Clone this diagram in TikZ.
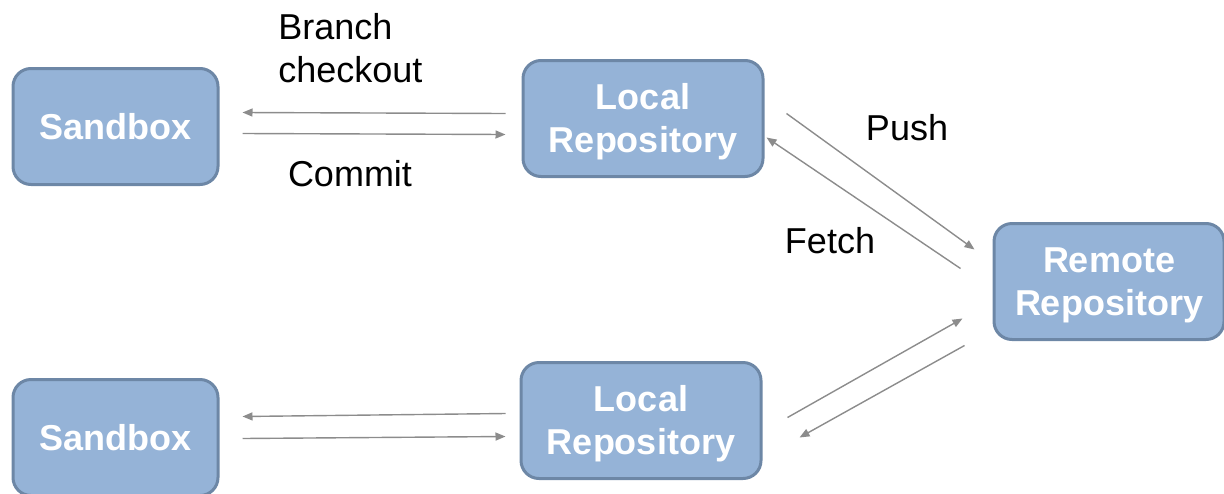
\documentclass[tikz,border=0pt]{standalone}
\usepackage{fontspec}
\setmainfont{Liberation Sans}
\usetikzlibrary{arrows.meta}
\definecolor{boxfill}{HTML}{95B3D7}
\definecolor{boxline}{HTML}{6D87A6}
\definecolor{linkgray}{HTML}{8C8C8C}
\newcommand{\toppad}{\rule{0pt}{16pt}}
\begin{document}
\begin{tikzpicture}[x=0.5pt,y=-0.5pt,
  repo/.style={draw=boxline,line width=1.5pt,fill=boxfill,rounded corners=9pt,
    text=white,font=\fontsize{18}{21.5}\selectfont\bfseries,align=center,
    minimum height=58pt,inner sep=0pt},
  link/.style={draw=linkgray,line width=0.7pt,-{Triangle[length=5pt,width=4pt]}},
  lbl/.style={font=\fontsize{18}{21.5}\selectfont,inner sep=0pt}]
\useasboundingbox (0,0) rectangle (1224,493);

\node[repo,minimum width=102.5pt] (sandboxA) at (115.5,126.5) {Sandbox};
\node[repo,minimum width=120pt] (localA) at (643,118.5) {\toppad Local\\Repository};
\node[repo,minimum width=115pt] (remote) at (1109,281.5) {\toppad Remote\\Repository};
\node[repo,minimum width=102.5pt] (sandboxB) at (115.5,437.5) {Sandbox};
\node[repo,minimum width=120pt] (localB) at (641,420.5) {\toppad Local\\Repository};

\node[lbl,anchor=west,align=left] (lblcheckout) at (278,48) {Branch\\checkout};
\node[lbl] (lblcommit) at (350,174) {Commit};
\node[lbl] (lblpush) at (907,128) {Push};
\node[lbl] (lblfetch) at (830,241) {Fetch};

\draw[link] ([shift={(-16,-5)}]localA.west) -- ([shift={(23,-14)}]sandboxA.east);
\draw[link] ([shift={(23,7)}]sandboxA.east) -- ([shift={(-16,16)}]localA.west);
\draw[link] ([shift={(22,-5)}]localA.east) -- ([shift={(-18,-32)}]remote.west);
\draw[link] ([shift={(-32,-13)}]remote.west) -- ([shift={(2,19)}]localA.east);

\draw[link] ([shift={(-14,-7)}]localB.west) -- ([shift={(23,-21)}]sandboxB.east);
\draw[link] ([shift={(23,1)}]sandboxB.east) -- ([shift={(-14,16)}]localB.west);
\draw[link] ([shift={(25,-3)}]localB.east) -- ([shift={(-30,37)}]remote.west);
\draw[link] ([shift={(-28,64)}]remote.west) -- ([shift={(37,17)}]localB.east);
\end{tikzpicture}
\end{document}
